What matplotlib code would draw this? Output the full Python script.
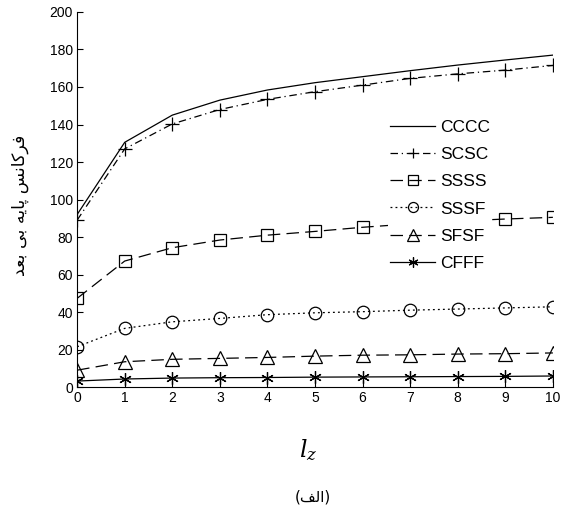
import numpy as np
import matplotlib
matplotlib.use("Agg")
import matplotlib.pyplot as plt

# data
lz = [0, 1, 2, 3, 4, 5, 6, 7, 8, 9, 10]
cccc = [92, 130.5, 145, 153, 158.4, 162.3, 165.5, 168.7, 171.7, 174.4, 177]
scsc = [89, 127, 140.3, 148, 153.4, 157.5, 161, 164.6, 167, 169, 171.5]
ssss = [47.3, 67.2, 74.3, 78.4, 81, 83, 85.2, 87, 88.5, 89.6, 90.5]
sssf = [21.5, 31.3, 34.8, 36.6, 38.6, 39.6, 40.2, 41, 41.6, 42.2, 42.8]
sfsf = [9, 13.5, 14.8, 15.3, 15.8, 16.5, 17, 17.2, 17.6, 17.8, 18.2]
cfff = [3.2, 4.3, 4.8, 5, 5.1, 5.3, 5.4, 5.5, 5.6, 5.7, 5.9]

names = ["CCCC", "SCSC", "SSSS", "SSSF", "SFSF", "CFFF"]
series = [cccc, scsc, ssss, sssf, sfsf, cfff]
styles = [
    dict(ls="-", marker=None),
    dict(ls=(0, (6, 3, 1, 3)), marker="+", ms=9.5),
    dict(ls=(0, (10, 5)), marker="s", ms=8.5),
    dict(ls=(0, (1.5, 2.5)), marker="o", ms=9),
    dict(ls=(0, (10, 5)), marker="^", ms=10),
    dict(ls="-", marker=(6, 2, 0), ms=9),
]

# Persian text written in visual (left-to-right) order with presentation forms
ylab_words = ["\uFED3\uFEAE\uFB90\uFE8E\uFEE7\uFEB2",   # فرکانس
              "\uFB58\uFE8E\uFBFE\uFEEA",               # پایه
              "\uFE91\uFBFD",                           # بی
              "\uFE91\uFECC\uFEAA"]                     # بعد
ylab = " ".join(w[::-1] for w in ylab_words[::-1])
caption = "(" + "\uFED2\uFEDF\uFE8D" + ")"

plt.rcParams["font.family"] = ["Liberation Sans", "DejaVu Sans"]
plt.rcParams["mathtext.fontset"] = "dejavuserif"

fig = plt.figure(figsize=(5.63, 5.12), dpi=100)
ax = fig.add_axes([0.137, 0.244, 0.845, 0.7326])

for name, y, st in zip(names, series, styles):
    ax.plot(lz, y, color="k", lw=0.9, label=name, mfc="none", mew=0.9,
            **st)

ax.set_xlim(0, 10)
ax.set_ylim(0, 200)
ax.set_xticks(range(0, 11))
ax.set_yticks(range(0, 201, 20))
ax.tick_params(direction="in", labelsize=10, length=4, pad=3)
ax.spines["top"].set_visible(False)
ax.spines["right"].set_visible(False)

leg = ax.legend(loc="upper left", bbox_to_anchor=(0.654, 0.718),
                frameon=True, edgecolor="none", fancybox=False,
                handlelength=2.6, handletextpad=0.3, labelspacing=0.7,
                borderpad=0.1, markerscale=0.8, borderaxespad=0,
                prop={"size": 12.5})
leg.get_frame().set_alpha(1)

fig.text(0.547, 1 - 450 / 512, r"$l_z$", fontsize=17, ha="center",
         va="center")
fig.text(0.555, 1 - 497 / 512, caption, fontsize=11, ha="center",
         va="center", family=["DejaVu Sans"])
fig.text(0.035, 1 - 205 / 512, ylab, fontsize=12.5, rotation=90,
         ha="center", va="center", family=["DejaVu Sans"])

fig.savefig("out.png", dpi=100)
